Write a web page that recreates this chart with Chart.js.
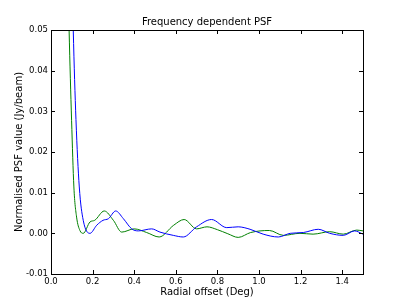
<!DOCTYPE html>
<html>
<head>
<meta charset="utf-8">
<script src="https://cdn.jsdelivr.net/npm/chart.js@4"></script>
<style>
  html, body { margin: 0; padding: 0; background: #fff; }
  #wrap { width: 404px; height: 305px; }
</style>
</head>
<body>
<div id="wrap"><canvas id="psf"></canvas></div>
<script>
// radial offset (deg) and normalised PSF values
const greenOffsets = [0.075, 0.087, 0.099, 0.11, 0.123, 0.139, 0.155, 0.1875, 0.21, 0.256, 0.30, 0.34, 0.40, 0.46, 0.52, 0.59, 0.64, 0.70, 0.75, 0.80, 0.85, 0.90, 0.96, 1.05, 1.117, 1.197, 1.26, 1.34, 1.405, 1.47, 1.5]
const greenValues  = [0.08, 0.05, 0.0278, 0.0114, 0.004, 0.0007, 0.0, 0.0028, 0.0032, 0.0055, 0.0032, 0.0003, 0.0011, 0.0002, -0.0009, 0.002, 0.0034, 0.0011, 0.0016, 0.0009, -0.0001, -0.001, 0.0002, 0.0007, -0.0005, 0.0, -0.0002, 0.0004, -0.0002, 0.0008, 0.0006]

const blueOffsets = [0.095, 0.107, 0.12, 0.136, 0.155, 0.1875, 0.22, 0.25, 0.276, 0.311, 0.348, 0.388, 0.42, 0.484, 0.524, 0.588, 0.636, 0.70, 0.772, 0.845, 0.90, 0.957, 1.02, 1.093, 1.15, 1.213, 1.285, 1.34, 1.405, 1.46, 1.5]
const blueValues  = [0.08, 0.05, 0.028, 0.0114, 0.0032, 0.0, 0.002, 0.0032, 0.0036, 0.0055, 0.0036, 0.0011, 0.0006, 0.0011, 0.0003, -0.0005, -0.0009, 0.0016, 0.0034, 0.0014, 0.0016, 0.001, -0.0002, -0.0009, 0.0, 0.0002, 0.001, 0.0, -0.0005, 0.0006, -0.0002]

const xTicks = [0.0, 0.2, 0.4, 0.6, 0.8, 1.0, 1.2, 1.4]
const yTicks = [-0.01, 0.00, 0.01, 0.02, 0.03, 0.04, 0.05]

function toPoints(xs, ys) {
  return xs.map((x, i) => ({ x: x, y: ys[i] }))
}

const tickFont = { family: 'DejaVu Sans', size: 8.5 }

// matplotlib style frame with inward ticks on all four sides
const framePlugin = {
  id: 'frame',
  afterDraw(chart) {
    const { ctx, chartArea: a, scales } = chart
    ctx.save()
    ctx.strokeStyle = '#000'
    ctx.lineWidth = 1
    ctx.beginPath()
    xTicks.forEach(v => {
      const px = Math.round(scales.x.getPixelForValue(v)) + 0.5
      ctx.moveTo(px, a.bottom); ctx.lineTo(px, a.bottom - 4)
      ctx.moveTo(px, a.top); ctx.lineTo(px, a.top + 4)
    })
    yTicks.forEach(v => {
      const py = Math.round(scales.y.getPixelForValue(v)) + 0.5
      ctx.moveTo(a.left, py); ctx.lineTo(a.left + 4, py)
      ctx.moveTo(a.right, py); ctx.lineTo(a.right - 4, py)
    })
    ctx.stroke()
    ctx.strokeRect(Math.round(a.left) + 0.5, Math.round(a.top) + 0.5, Math.round(a.right - a.left), Math.round(a.bottom - a.top))
    ctx.restore()
  }
}

new Chart(document.getElementById('psf'), {
  type: 'line',
  data: {
    datasets: [{
      data: toPoints(blueOffsets, blueValues),
      borderColor: '#0000ff',
      borderWidth: 1,
      pointRadius: 0,
      cubicInterpolationMode: 'monotone',
      fill: false
    }, {
      data: toPoints(greenOffsets, greenValues),
      borderColor: '#008000',
      borderWidth: 1,
      pointRadius: 0,
      cubicInterpolationMode: 'monotone',
      fill: false
    }]
  },
  options: {
    responsive: true,
    maintainAspectRatio: false,
    animation: false,
    layout: { padding: { left: 0, right: 41, top: 0, bottom: 0 } },
    scales: {
      x: {
        type: 'linear',
        min: 0,
        max: 1.5,
        afterFit(scale) { scale.height = 31 },
        afterBuildTicks(scale) { scale.ticks = xTicks.map(v => ({ value: v })) },
        grid: { display: false, drawTicks: false },
        border: { display: false },
        ticks: {
          color: '#000',
          font: tickFont,
          padding: 3,
          maxRotation: 0,
          autoSkip: false,
          callback: v => v.toFixed(1)
        },
        title: {
          display: true,
          text: 'Radial offset (Deg)',
          color: '#000',
          font: { family: 'DejaVu Sans', size: 10 },
          padding: { top: 0, bottom: 7 }
        }
      },
      y: {
        min: -0.01,
        max: 0.05,
        afterFit(scale) { scale.width = 51 },
        afterBuildTicks(scale) { scale.ticks = yTicks.map(v => ({ value: v })) },
        grid: { display: false, drawTicks: false },
        border: { display: false },
        ticks: {
          color: '#000',
          font: tickFont,
          padding: 3,
          callback: v => v.toFixed(2)
        },
        title: {
          display: true,
          text: 'Normalised PSF value (Jy/beam)',
          color: '#000',
          font: { family: 'DejaVu Sans', size: 10 },
          padding: { top: 13, bottom: 0 }
        }
      }
    },
    plugins: {
      legend: { display: false },
      tooltip: { enabled: false },
      title: {
        display: true,
        fullSize: false,
        text: 'Frequency dependent PSF',
        color: '#000',
        font: { family: 'DejaVu Sans', size: 10, weight: 'normal' },
        padding: { top: 16, bottom: 2 }
      }
    }
  },
  plugins: [framePlugin]
})
</script>
</body>
</html>
